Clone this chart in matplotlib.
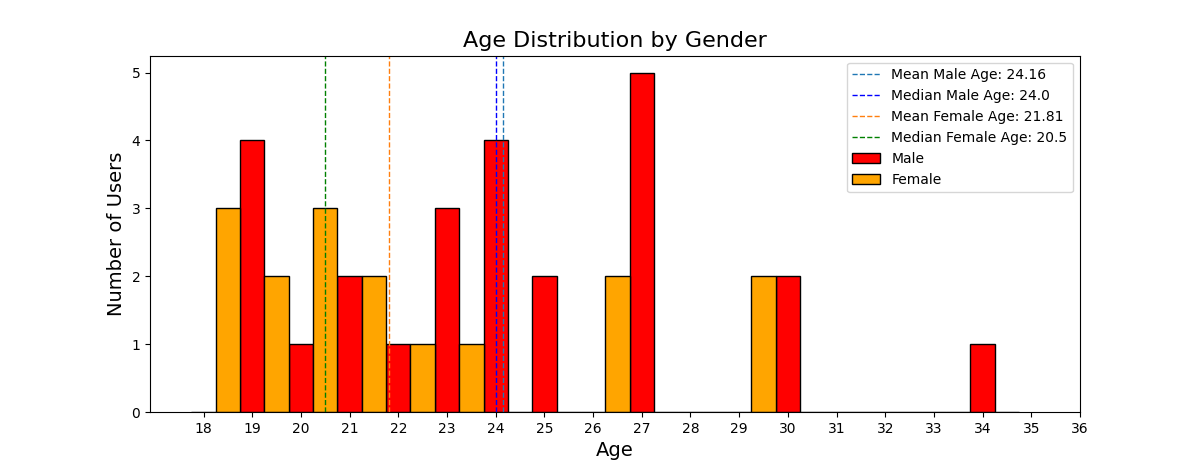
import numpy as np
import matplotlib
matplotlib.use('Agg')
import matplotlib.pyplot as plt

# Ages per gender
male_ages = [19] * 4 + [20] * 1 + [21] * 2 + [22] * 1 + [23] * 3 + [24] * 4 + [25] * 2 + [27] * 5 + [30] * 2 + [34] * 1
female_ages = [18] * 3 + [19] * 2 + [20] * 3 + [21] * 2 + [22] * 1 + [23] * 1 + [26] * 2 + [29] * 2

bins = list(range(18, 36))
xticks = list(range(18, 37))

mean_male = np.mean(male_ages)
median_male = np.median(male_ages)
mean_female = np.mean(female_ages)
median_female = np.median(female_ages)

fig, ax = plt.subplots(figsize=(12, 4.63), dpi=100)

# Mean / median reference lines
ax.axvline(mean_male, color='#1f77b4', linestyle='--', linewidth=1,
           label=f'Mean Male Age: {mean_male:.2f}')
ax.axvline(median_male, color='blue', linestyle='--', linewidth=1,
           label=f'Median Male Age: {median_male}')
ax.axvline(mean_female, color='#ff7f0e', linestyle='--', linewidth=1,
           label=f'Mean Female Age: {mean_female:.2f}')
ax.axvline(median_female, color='green', linestyle='--', linewidth=1,
           label=f'Median Female Age: {median_female}')

# Side-by-side histograms
ax.hist(male_ages, bins=bins, align='left', rwidth=0.5, color='red',
        edgecolor='black', label='Male')
ax.hist(female_ages, bins=bins, align='mid', rwidth=0.5, color='orange',
        edgecolor='black', label='Female')

ax.set_title('Age Distribution by Gender', fontsize=16)
ax.set_xlabel('Age', fontsize=14)
ax.set_ylabel('Number of Users', fontsize=14)
ax.set_xticks(xticks)
ax.legend(loc='upper right')

fig.savefig('out.png', dpi=100)
